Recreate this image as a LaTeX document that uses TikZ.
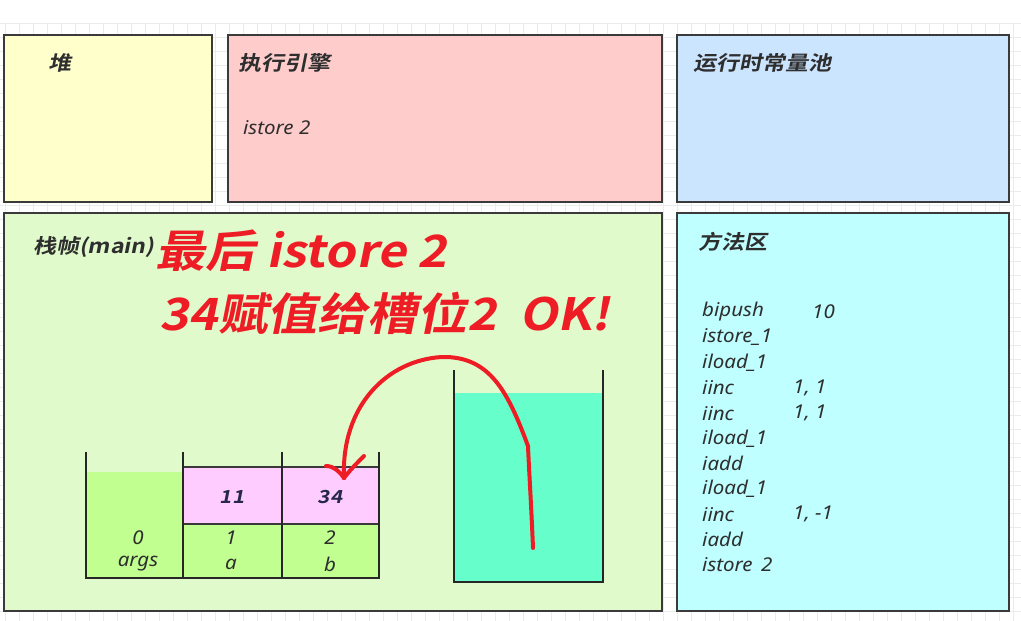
\documentclass[tikz,border=0pt]{standalone}
\usepackage{fontspec}
\setmainfont{Noto Sans}[FakeStretch=1.08]
\newfontfamily\cjkb[FakeSlant=0.2,FakeStretch=1.15]{Noto Sans CJK SC Bold}
\newfontfamily\cjkbig[FakeSlant=0.2,FakeStretch=1.12]{Noto Sans CJK SC Bold}
\definecolor{gridc}{HTML}{EBEBEB}
\definecolor{heapc}{HTML}{FFFFCC}
\definecolor{engc}{HTML}{FFCCCC}
\definecolor{poolc}{HTML}{CCE5FF}
\definecolor{framec}{HTML}{E0FACB}
\definecolor{methc}{HTML}{BFFFFF}
\definecolor{slotg}{HTML}{C0FF90}
\definecolor{slotp}{HTML}{FFCCFF}
\definecolor{stackc}{HTML}{66FFCC}
\definecolor{redc}{HTML}{EE1C25}
\definecolor{txt}{HTML}{2E2E2E}
\definecolor{edge}{HTML}{3A3A3A}
\tikzset{
  area/.style={draw=edge,line width=1.3pt},
  title/.style={anchor=west,text=txt,font=\cjkb\fontsize{20}{22}\selectfont,inner sep=0pt},
  code/.style={anchor=west,text=txt,font=\itshape\fontsize{19}{21}\selectfont,inner sep=0pt},
  cell/.style={text=txt,font=\itshape\fontsize{19}{21}\selectfont,inner sep=0pt},
  val/.style={text=txt!85!blue,font=\cjkb\fontsize{18}{20}\selectfont,inner sep=0pt},
  wall/.style={draw=black!85,line width=2pt},
  big/.style={anchor=west,text=redc,font=\cjkbig\fontsize{44.5}{48}\selectfont,inner sep=0pt},
  pen/.style={draw=redc,line width=4pt,line cap=round,line join=round}
}
\begin{document}
\begin{tikzpicture}[x=1pt,y=-1pt]
\useasboundingbox (0,0) rectangle (1021,621);
\fill[white] (0,0) rectangle (1021,621);
% grid
\foreach \gx in {5,19,...,1021} \draw[gridc,line width=0.8pt] (\gx,23) -- (\gx,621);
\foreach \gy in {23,37,...,621} \draw[gridc,line width=0.8pt] (0,\gy) -- (1021,\gy);
% areas
\draw[area,fill=heapc] (4,35) rectangle (212,202);
\draw[area,fill=engc] (228,35) rectangle (662,202);
\draw[area,fill=poolc] (677,35) rectangle (1009,202);
\draw[area,fill=framec] (4,213) rectangle (662,611);
\draw[area,fill=methc] (677,213) rectangle (1009,611);
% titles
\node[title] (heap) at (48,63) {堆};
\node[title] (eng) at (238,63) {执行引擎};
\node[code] (engcode) at (243,128) {istore 2};
\node[title] (pool) at (693,63) {运行时常量池};
\node[title] (frame) at (33,247) {栈帧(main)};
\node[title] (meth) at (698,242) {方法区};
% method code
\node[code] (c1) at (702,312) {bipush};
\node[code] (c1a) at (812,312) {10};
\node[code] (c2) at (702,337.3) {istore\_1};
\node[code] (c3) at (702,362.6) {iload\_1};
\node[code] (c4) at (702,387.9) {iinc};
\node[code] (c4a) at (793,387.9) {1, 1};
\node[code] (c5) at (702,413.2) {iinc};
\node[code] (c5a) at (793,413.2) {1, 1};
\node[code] (c6) at (702,438.5) {iload\_1};
\node[code] (c7) at (702,463.8) {iadd};
\node[code] (c8) at (702,489.1) {iload\_1};
\node[code] (c9) at (702,514.4) {iinc};
\node[code] (c9a) at (793,514.4) {1, -1};
\node[code] (c10) at (702,539.7) {iadd};
\node[code] (c11) at (702,565) {istore\hspace{3pt} 2};
% local variable table
\fill[slotg] (86,472) rectangle (183,578);
\fill[slotp] (183,467) rectangle (379,524);
\fill[slotg] (183,524) rectangle (379,578);
\draw[edge,line width=1.6pt] (183,467) -- (379,467);
\draw[edge,line width=1.6pt] (183,524) -- (379,524);
\draw[wall] (86,452) -- (86,578) -- (379,578) -- (379,452);
\draw[wall] (183,452) -- (183,578);
\draw[wall] (282,452) -- (282,578);
\node[val] (v1) at (232,497) {11};
\node[val] (v2) at (330,497) {34};
\node[cell] (s0) at (138,538) {0};
\node[cell] (n0) at (138,564) {args};
\node[cell] (s1) at (231,538) {1};
\node[cell] (n1) at (231,564) {a};
\node[cell] (s2) at (330,538) {2};
\node[cell] (n2) at (330,564) {b};
% operand stack
\fill[stackc] (454,393) rectangle (603,581);
\draw[wall] (454,370) -- (454,582) -- (603,582) -- (603,370);
% red overlay text
\node[big] (t1) at (155,251) {最后 istore 2};
\node[big] (t2) at (159,313) {34赋值给槽位2~~OK!};
% red hand-drawn arrow
\coordinate (p0) at (533,548);
\coordinate (p1) at (528,446);
\coordinate (p2) at (442,357);
\coordinate (tip) at (344,478);
\draw[pen] (p0) .. controls (531,500) and (529,470) .. (p1)
  .. controls (508,392) and (490,356) .. (p2)
  .. controls (388,360) and (341,405) .. (tip);
\draw[pen] (326,466) .. controls (334,466) and (340,472) .. (tip);
\draw[pen] (364,456) .. controls (358,462) and (350,470) .. (tip);
\end{tikzpicture}
\end{document}
